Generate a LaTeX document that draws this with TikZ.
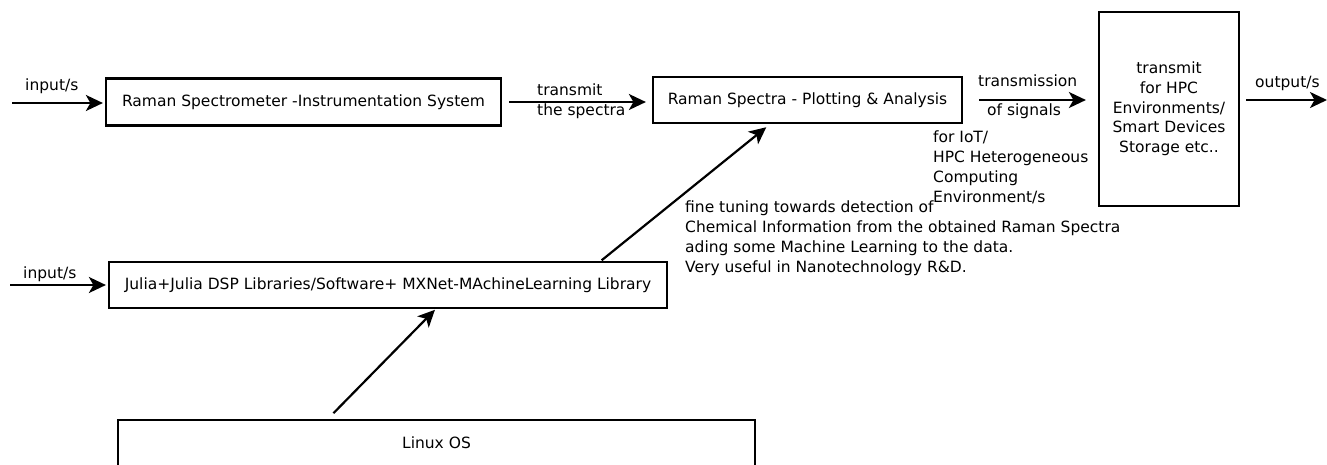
\documentclass[tikz,border=0pt]{standalone}
\usepackage{fontspec}
\setmainfont{DejaVu Sans}
\usetikzlibrary{arrows.meta,calc}
\begin{document}
\begin{tikzpicture}[x=1pt,y=-1pt,
  font=\fontsize{15.5}{19.7}\selectfont,
  box/.style={draw=black,line width=2.2pt,rectangle,inner sep=0pt,align=center},
  arr/.style={line width=2.2pt,-{Stealth[length=17pt,width=16pt,inset=4.5pt]}},
  lbl/.style={inner sep=0pt,anchor=base west,align=left}]
\useasboundingbox (0,0) rectangle (1327,464);
% boxes
\node[box,minimum width=395pt,minimum height=47pt] (b1) at (303.5,102) {Raman Spectrometer -Instrumentation System};
\node[box,minimum width=309pt,minimum height=46pt] (b2) at (807.5,100) {Raman Spectra - Plotting \& Analysis};
\node[box,minimum width=140pt,minimum height=194pt] (b3) at (1169,109) {transmit\\for HPC\\Environments/\\Smart Devices\\Storage etc..};
\node[box,minimum width=558pt,minimum height=46pt] (b4) at (388,285) {Julia+Julia DSP Libraries/Software+ MXNet-MAchineLearning Library};
\node[box,minimum width=637pt,minimum height=46pt] (b5) at (436.5,443) {Linux OS};
% free ends
\coordinate (in1) at (12,103);
\coordinate (in2) at (10,285);
\coordinate (out) at (1327,100);
% labels (base = baseline of the last line)
\node[lbl] (lin1) at (25,90) {input/s};
\node[lbl] (lin2) at (23,278) {input/s};
\node[lbl] (lt1) at (537,115.5) {transmit\\the spectra};
\node[lbl] (lt2) at (978,86) {transmission};
\node[lbl] (lt3) at (987,115) {of signals};
\node[lbl] (lout) at (1255,87) {output/s};
\node[lbl] (liot) at (933,202) {for IoT/\\HPC Heterogeneous\\Computing\\Environment/s};
\node[lbl] (lfine) at (685,272) {fine tuning towards detection of\\Chemical Information from the obtained Raman Spectra\\ading some Machine Learning to the data.\\Very useful in Nanotechnology R\&D.};
% connectors
\draw[arr,shorten >=2pt] (in1) -- (in1 -| b1.west);
\draw[arr,shorten <=7pt,shorten >=6pt] (b1.east) -- (b1.east -| b2.west);
\draw[arr,shorten <=16pt,shorten >=12pt] (b2.east) -- (b2.east -| b3.west);
\draw[arr,shorten <=6pt] (b3.east |- out) -- (out);
\draw[arr,shorten >=2pt] (in2) -- (in2 -| b4.west);
\draw[arr,shorten <=1pt,shorten >=5pt] ($(b4.north west)!0.88!(b4.north east)$) -- ($(b2.south west)!0.38!(b2.south east)$);
\draw[arr,shorten <=8pt,shorten >=1pt] ($(b5.north west)!0.33!(b5.north east)$) -- ($(b4.south west)!0.585!(b4.south east)$);
\end{tikzpicture}
\end{document}
